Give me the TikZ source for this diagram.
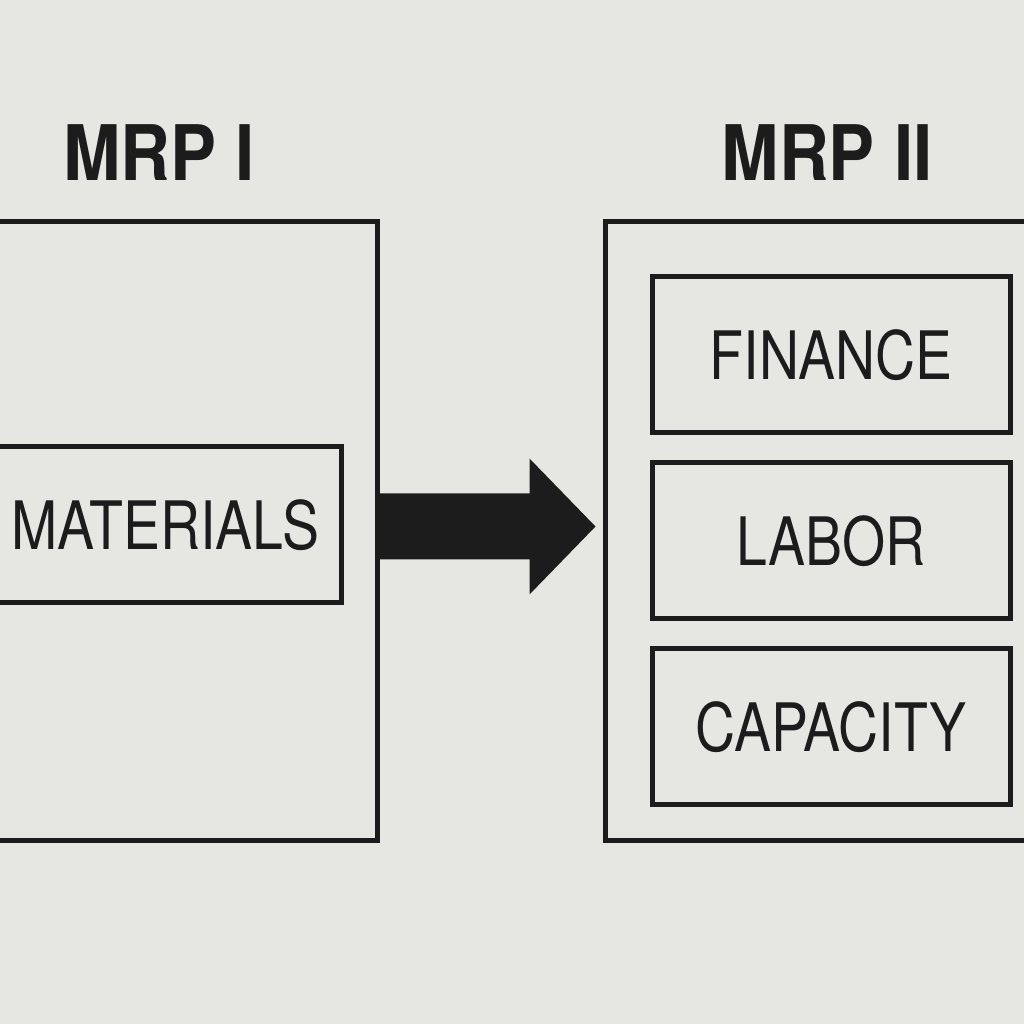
\documentclass[tikz,border=0pt]{standalone}
\usepackage{fontspec}
\setmainfont{TeX Gyre Heros}
\newfontfamily\titlefont[FakeStretch=0.9]{TeX Gyre Heros}
\newfontfamily\boxfont[FakeStretch=0.83]{TeX Gyre Heros}
\usetikzlibrary{positioning, calc}
\definecolor{paperGray}{HTML}{E6E6E2}
\definecolor{inkDark}{HTML}{1C1C1C}
\tikzset{
  frameBox/.style={rectangle, draw=inkDark, line width=0.5mm,
                   minimum height=6.19cm, inner sep=0pt},
  itemBox/.style={rectangle, draw=inkDark, line width=0.5mm, text=inkDark,
                  minimum width=3.58cm, minimum height=1.56cm, inner sep=0pt},
  titleText/.style={text=inkDark, inner sep=0pt,
                    font=\titlefont\bfseries\fontsize{21.8pt}{26pt}\selectfont},
}
\begin{document}
\begin{tikzpicture}[font=\boxfont\fontsize{19pt}{23pt}\selectfont, node distance=0.25cm]
  \fill[paperGray] (0,0) rectangle (10.24,10.24);
  \useasboundingbox (0,0) rectangle (10.24,10.24);
  \clip (0,0) rectangle (10.24,10.24);
  % the two frames
  \node[frameBox, minimum width=3.87cm] (mrpOne) at (1.835,4.925) {};
  \node[frameBox, minimum width=4.3cm] (mrpTwo) at (8.2,4.925) {};
  \node[titleText] (titleOne) at (1.59,8.715) {MRP I};
  \node[titleText] (titleTwo) at (8.27,8.715) {MRP II};
  % contents
  \node[itemBox, minimum width=3.51cm] (materials) at (1.655,4.99) {MATERIALS};
  \node[itemBox] (finance) at (8.31,6.69) {FINANCE};
  \node[itemBox, below=of finance] (labor) {LABOR};
  \node[itemBox, below=of labor] (capacity) {CAPACITY};
  % block arrow
  \fill[inkDark] ([yshift=0.5mm]mrpOne.east) ++(0,0.33) -- ++(1.5,0) -- ++(0,0.35)
    -- ++(0.66,-0.68) -- ++(-0.66,-0.68) -- ++(0,0.35) -- ++(-1.5,0) -- cycle;
\end{tikzpicture}
\end{document}
